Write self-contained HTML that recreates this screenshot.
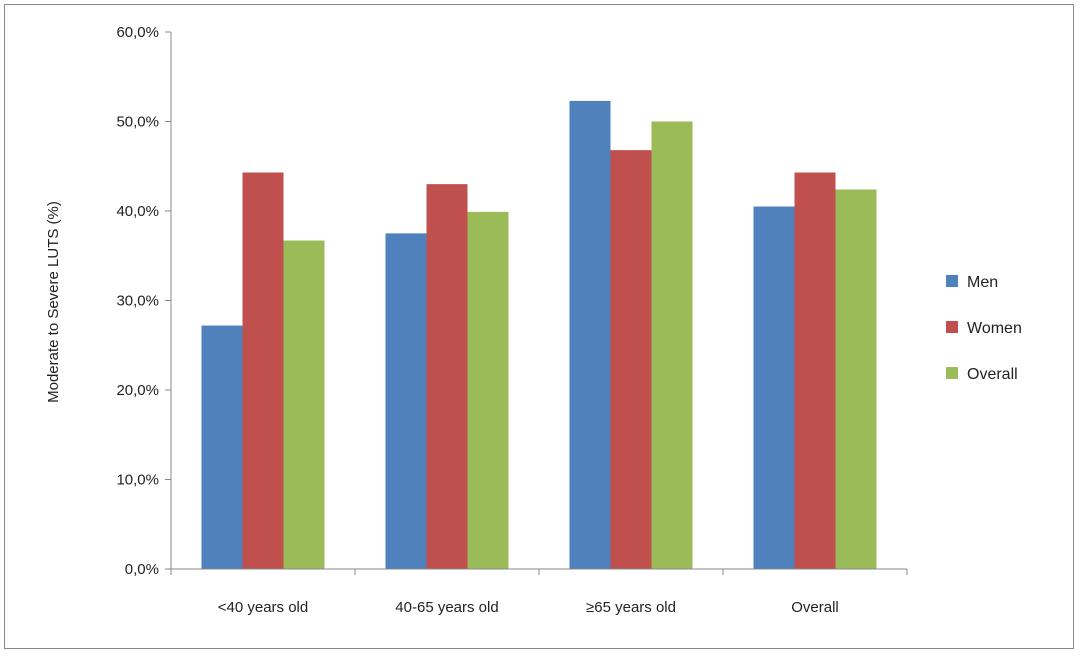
<!DOCTYPE html>
<html><head><meta charset="utf-8"><style>
body{margin:0;background:#fff;width:1080px;height:655px;overflow:hidden}
text{font-family:"Liberation Sans","DejaVu Sans",sans-serif;fill:#222}
</style></head><body>
<svg width="1080" height="655">
<rect x="4.5" y="4.5" width="1069" height="644" fill="#fff" stroke="#888"/>
<g id="plot"></g>
<text transform="translate(58,302) rotate(-90)" text-anchor="middle" font-size="15">Moderate to Severe LUTS (%)</text>
</svg>
<script>
const categories=["<40 years old","40-65 years old","≥65 years old","Overall"];
const men=[27.2,37.5,52.3,40.5];
const women=[44.3,43.0,46.8,44.3];
const overall=[36.7,39.9,50.0,42.4];
const ticks=[0,10,20,30,40,50,60];
const tickLabels=["0,0%","10,0%","20,0%","30,0%","40,0%","50,0%","60,0%"];
const seriesNames=["Men","Women","Overall"];
const colors=["#4f81bd","#c0504d","#9bbb59"];
const NS="http://www.w3.org/2000/svg";
const g=document.getElementById('plot');
const x0=171,x1=907,y0=569,yTop=32;
const y=v=>y0-(v/60)*(y0-yTop);
const catW=(x1-x0)/categories.length;
function el(t,a){const e=document.createElementNS(NS,t);for(const k in a)e.setAttribute(k,a[k]);g.appendChild(e);return e;}
ticks.forEach((t,i)=>{
 const l=el('line',{x1:x0-6,x2:x0,y1:y(t),y2:y(t),stroke:'#888'});
 
 
 const tx=el('text',{x:x0-12,y:y(t)+5,'text-anchor':'end','font-size':15});
 tx.textContent=tickLabels[i];
 
 
});
const series=[men,women,overall];
const bw=41;
categories.forEach((c,i)=>{
 const cx=x0+catW*(i+0.5);
 series.forEach((s,j)=>{
  const bx=cx-bw*1.5+j*bw;
  const r=el('rect',{x:bx,y:y(s[i]),width:bw,height:y0-y(s[i]),fill:colors[j]});
  
  
 });
 const t=el('text',{x:cx,y:612,'text-anchor':'middle','font-size':15});
 t.textContent=c;
 
 
});
for(let i=0;i<=categories.length;i++){
 const tk=el('line',{x1:x0+catW*i,x2:x0+catW*i,y1:y0,y2:y0+6,stroke:'#888'});
 
 
}
const ya=el('line',{x1:x0,x2:x0,y1:yTop,y2:y0,stroke:'#888'});


const xa=el('line',{x1:x0,x2:x1,y1:y0,y2:y0,stroke:'#888'});


seriesNames.forEach((n,j)=>{
 const ly=281+j*46;
 const sq=el('rect',{x:946,y:ly-6,width:12,height:12,fill:colors[j]});
 
 
 const t=el('text',{x:967,y:ly+6,'font-size':16});
 t.textContent=n;
 
 
});
</script>
</body></html>
